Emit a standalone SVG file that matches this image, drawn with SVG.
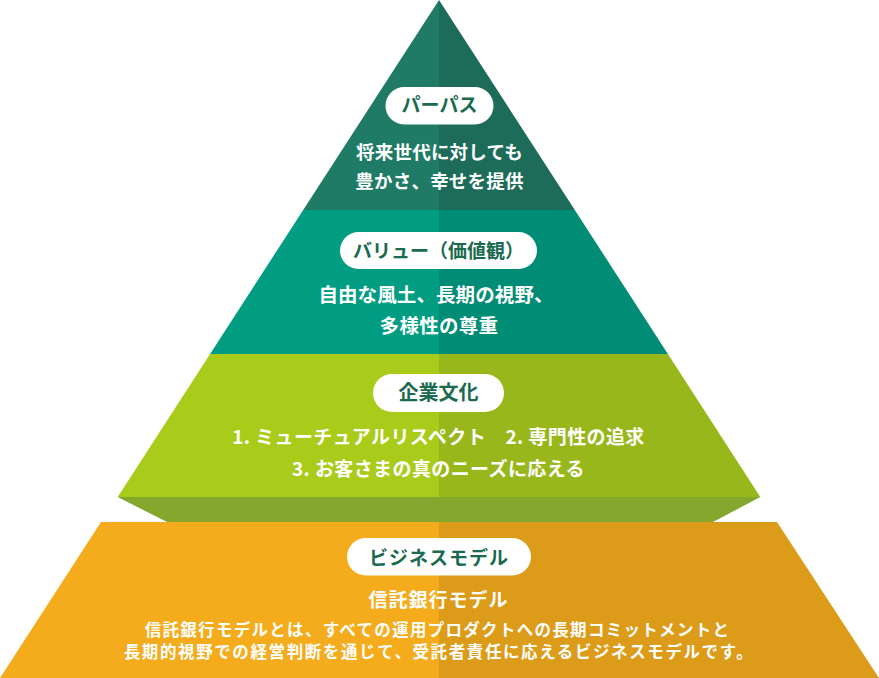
<svg xmlns="http://www.w3.org/2000/svg" width="879" height="678" viewBox="0 0 879 678">
  <style>
    text { font-family: "Noto Sans CJK JP", "Noto Sans", sans-serif; font-weight: 700; text-anchor: middle; }
    .pill { fill: #ffffff; }
    .ptxt { fill: #1a6a50; font-size: 19px; }
    .body { fill: #ffffff; font-size: 19px; }
    .small { fill: #ffffff; font-size: 16.5px; letter-spacing: 1.3px; }
  </style>
  <rect width="879" height="678" fill="#ffffff"/>

  <g id="purpose">
    <polygon points="439,0 439,210 303.2,210" fill="#1f7b65"/>
    <polygon points="439,0 574.8,210 439,210" fill="#1c6c59"/>
    <rect class="pill" x="385.5" y="87" width="108" height="37.5" rx="18.75"/>
    <text class="ptxt" x="439.5" y="112">パーパス</text>
    <text class="body" x="439.5" y="158.5" style="font-size:18.5px;letter-spacing:0.2px">将来世代に対しても</text>
    <text class="body" x="439.5" y="188" style="font-size:18.5px;letter-spacing:0.2px">豊かさ、幸せを提供</text>
  </g>

  <g id="value">
    <polygon points="303.2,210 439,210 439,354 210.1,354" fill="#009d82"/>
    <polygon points="439,210 574.8,210 667.9,354 439,354" fill="#008c75"/>
    <rect class="pill" x="340" y="232" width="197" height="37" rx="18.5"/>
    <text class="ptxt" x="438.5" y="258">バリュー（価値観）</text>
    <text class="body" x="436" y="301.5" style="font-size:19.5px;letter-spacing:0.1px">自由な風土、長期の視野、</text>
    <text class="body" x="439" y="332.5" style="font-size:19.5px;letter-spacing:0.3px">多様性の尊重</text>
  </g>

  <g id="culture">
    <polygon points="210.1,354 439,354 439,497 117.7,497" fill="#a9cc1b"/>
    <polygon points="439,354 667.9,354 760.3,497 439,497" fill="#98b71b"/>
    <polygon points="117.7,497 760.3,497 713,522 167,522" fill="#86a72d"/>
    <rect class="pill" x="373" y="374" width="131" height="38" rx="19"/>
    <text class="ptxt" x="438.5" y="400" style="font-size:20px">企業文化</text>
    <text class="body" x="438.5" y="443.5" style="letter-spacing:0.4px">1. ミューチュアルリスペクト　2. 専門性の追求</text>
    <text class="body" x="438.5" y="475.5" style="letter-spacing:0.4px">3. お客さまの真のニーズに応える</text>
  </g>

  <g id="business">
    <polygon points="101,522 439,522 439,678 0,678" fill="#f5ac1c"/>
    <polygon points="439,522 777,522 879,678 439,678" fill="#dc9b18"/>
    <rect class="pill" x="347" y="538" width="184" height="37.5" rx="18.75"/>
    <text class="ptxt" x="439" y="564.5" style="letter-spacing:1px">ビジネスモデル</text>
    <text class="body" x="438.5" y="606.5" style="letter-spacing:1px">信託銀行モデル</text>
    <text class="small" x="437.5" y="636">信託銀行モデルとは、すべての運用プロダクトへの長期コミットメントと</text>
    <text class="small" x="439" y="658" style="letter-spacing:1.6px">長期的視野での経営判断を通じて、受託者責任に応えるビジネスモデルです。</text>
  </g>
</svg>
